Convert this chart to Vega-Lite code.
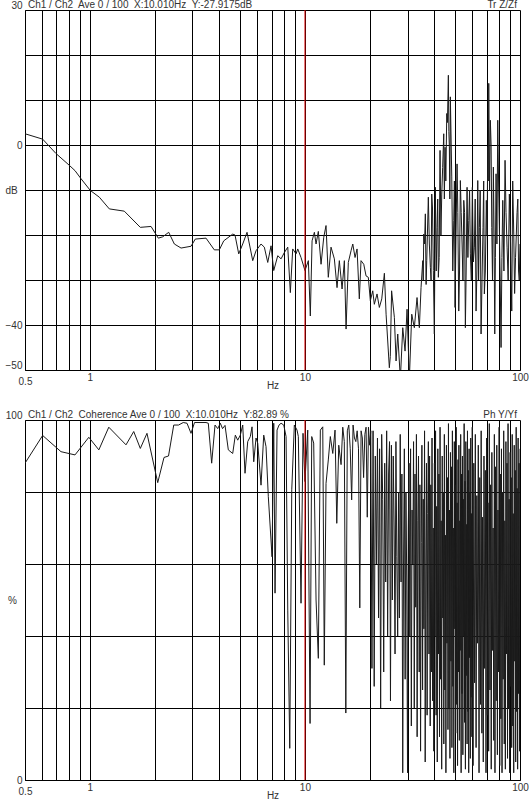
{
"$schema": "https://vega.github.io/schema/vega-lite/v6.json",
"background": "white",
"padding": {"left": 4, "top": 0, "right": 0, "bottom": 0},
"spacing": 50,
"bounds": "flush",
"config": {
  "font": "Liberation Sans",
  "view": {"stroke": null},
  "axis": {"gridColor": "#000", "gridOpacity": 1, "gridWidth": 1, "domainColor": "#000", "domainWidth": 1, "ticks": false, "labelFontSize": 10, "labelColor": "#333", "labelFont": "Liberation Sans", "titleFont": "Liberation Sans", "titleFontSize": 10, "titleFontWeight": "normal", "titleColor": "#333", "labelOverlap": false, "labelFlush": false}
},
"datasets": {
"tf": [
{"f":0.5,"db":2.5},{"f":0.604,"db":1.3},{"f":0.697,"db":-1.9},{"f":0.803,"db":-4.5},{"f":0.854,"db":-5.7},{"f":0.911,"db":-7.5},{"f":1.006,"db":-10.1},{"f":1.108,"db":-11.6},{"f":1.233,"db":-14.2},{"f":1.447,"db":-14.7},{"f":1.718,"db":-18.3},{"f":1.927,"db":-18.1},{"f":2.083,"db":-20.7},{"f":2.184,"db":-20.4},{"f":2.328,"db":-19.4},{"f":2.473,"db":-22.0},{"f":2.657,"db":-22.9},{"f":2.956,"db":-22.5},{"f":3.095,"db":-20.9},{"f":3.471,"db":-20.7},{"f":3.793,"db":-23.3},{"f":4.002,"db":-23.3},{"f":4.195,"db":-21.3},{"f":4.619,"db":-19.8},{"f":4.734,"db":-20.0},{"f":4.926,"db":-24.2},{"f":5.141,"db":-22.0},{"f":5.384,"db":-19.4},{"f":5.722,"db":-25.7},{"f":5.928,"db":-23.5},{"f":6.254,"db":-22.0},{"f":6.479,"db":-22.7},{"f":6.72,"db":-26.1},{"f":6.961,"db":-22.4},{"f":7.166,"db":-27.9},{"f":7.48,"db":-24.6},{"f":7.749,"db":-25.3},{"f":8.028,"db":-23.9},{"f":8.325,"db":-22.7},{"f":8.559,"db":-32.8},{"f":8.781,"db":-23.1},{"f":9.097,"db":-24.2},{"f":9.265,"db":-23.1},{"f":9.596,"db":-25.0},{"f":10.01,"db":-27.9},{"f":10.38,"db":-25.7},{"f":10.6,"db":-38.0},{"f":10.8,"db":-21.3},{"f":11.07,"db":-19.4},{"f":11.27,"db":-22.0},{"f":11.55,"db":-19.2},{"f":11.89,"db":-26.5},{"f":12.24,"db":-20.5},{"f":12.54,"db":-17.9},{"f":12.85,"db":-29.4},{"f":13.23,"db":-22.7},{"f":13.71,"db":-25.3},{"f":14.11,"db":-31.7},{"f":14.46,"db":-25.7},{"f":14.89,"db":-32.0},{"f":15.26,"db":-25.7},{"f":15.54,"db":-40.9},{"f":15.92,"db":-26.1},{"f":16.39,"db":-23.5},{"f":16.7,"db":-22.0},{"f":17.11,"db":-25.0},{"f":17.48,"db":-23.1},{"f":17.91,"db":-34.2},{"f":18.24,"db":-25.7},{"f":18.78,"db":-26.5},{"f":19.25,"db":-29.1},{"f":19.72,"db":-29.4},{"f":20.15,"db":-34.6},{"f":20.68,"db":-32.4},{"f":21.03,"db":-35.4},{"f":21.65,"db":-33.1},{"f":22.19,"db":-36.1},{"f":22.77,"db":-34.2},{"f":23.42,"db":-28.5},{"f":23.85,"db":-37.6},{"f":24.7,"db":-49.5},{"f":24.95,"db":-47},{"f":25.3,"db":-32.4},{"f":26.06,"db":-38.3},{"f":26.54,"db":-48},{"f":27.02,"db":-42},{"f":27.79,"db":-52},{"f":28.51,"db":-40.6},{"f":29.22,"db":-45.8},{"f":29.85,"db":-36.5},{"f":30.6,"db":-52},{"f":31.39,"db":-37.6},{"f":32.27,"db":-40.6},{"f":33.22,"db":-33.9},{"f":34.05,"db":-40.6},{"f":34.67,"db":-31.7},{"f":35.31,"db":-25.7},{"f":35.5,"db":-30},{"f":35.69,"db":-19.8},{"f":36.0,"db":-22},{"f":36.31,"db":-15.3},{"f":36.6,"db":-31},{"f":36.86,"db":-25.7},{"f":37.2,"db":-18},{"f":37.49,"db":-11.6},{"f":37.9,"db":-22},{"f":38.31,"db":-27.2},{"f":38.6,"db":-30},{"f":38.88,"db":-10.9},{"f":39.2,"db":-14},{"f":39.55,"db":-27.9},{"f":39.98,"db":-42.0},{"f":40.2,"db":-25},{"f":40.41,"db":-9.4},{"f":40.8,"db":-28},{"f":41.16,"db":-18.3},{"f":41.45,"db":-12},{"f":41.73,"db":-29.4},{"f":42.1,"db":-25},{"f":42.49,"db":-1.2},{"f":42.9,"db":-20},{"f":43.28,"db":-10.9},{"f":43.7,"db":-5},{"f":44.21,"db":2.5},{"f":44.5,"db":-12},{"f":44.84,"db":-0.5},{"f":45.2,"db":-8},{"f":45.66,"db":7.0},{"f":46.0,"db":5},{"f":46.45,"db":15.5},{"f":46.7,"db":3},{"f":46.95,"db":-0.4},{"f":47.2,"db":-12},{"f":47.45,"db":10.7},{"f":47.8,"db":2},{"f":48.17,"db":-7.1},{"f":48.7,"db":-28},{"f":49.21,"db":-16.8},{"f":49.55,"db":-8},{"f":49.9,"db":-36.1},{"f":50.4,"db":-20},{"f":50.98,"db":-4.2},{"f":51.4,"db":-15},{"f":51.92,"db":-36.9},{"f":52.35,"db":-28},{"f":52.81,"db":-7.9},{"f":53.3,"db":-15},{"f":53.79,"db":-22.0},{"f":54.3,"db":-30},{"f":54.78,"db":-12.3},{"f":55.25,"db":-15},{"f":55.72,"db":-40.6},{"f":56.2,"db":-28},{"f":56.75,"db":-9.4},{"f":57.25,"db":-25},{"f":57.79,"db":-16.8},{"f":58.3,"db":-10},{"f":58.79,"db":-24.2},{"f":59.4,"db":-30},{"f":60.06,"db":-9.4},{"f":60.7,"db":-26},{"f":61.37,"db":-22.7},{"f":61.9,"db":-12},{"f":62.48,"db":-36.9},{"f":63.05,"db":-28},{"f":63.63,"db":-7.9},{"f":64.2,"db":-30},{"f":64.73,"db":-18.3},{"f":65.3,"db":-10},{"f":65.92,"db":-42.0},{"f":66.6,"db":-30},{"f":67.32,"db":-18.3},{"f":67.8,"db":-8},{"f":68.28,"db":-33.1},{"f":69.0,"db":-28},{"f":69.75,"db":-12.3},{"f":70.3,"db":-20},{"f":70.81,"db":-0.4},{"f":71.2,"db":-8},{"f":71.57,"db":13.7},{"f":72.2,"db":-10},{"f":72.81,"db":5.5},{"f":73.4,"db":0},{"f":73.93,"db":-18.3},{"f":74.5,"db":-30},{"f":75.2,"db":-4.9},{"f":75.75,"db":-20},{"f":76.33,"db":-42.0},{"f":76.85,"db":-25},{"f":77.4,"db":-6.4},{"f":78.1,"db":-22},{"f":78.82,"db":5.5},{"f":79.5,"db":-8},{"f":80.17,"db":-18.3},{"f":80.9,"db":-30},{"f":81.65,"db":-45.0},{"f":82.4,"db":-25},{"f":83.15,"db":-12.3},{"f":84.2,"db":-28},{"f":85.22,"db":-3.4},{"f":86.1,"db":-15},{"f":87.07,"db":-22.7},{"f":88.1,"db":-30},{"f":89.24,"db":-10.9},{"f":90.4,"db":-22},{"f":91.55,"db":-36.9},{"f":92.5,"db":-8},{"f":93.54,"db":-19.8},{"f":94.4,"db":-33},{"f":95.35,"db":-25},{"f":96.1,"db":-20},{"f":96.9,"db":-15},{"f":97.7,"db":-12},{"f":98.47,"db":-28},{"f":99.2,"db":-30},{"f":100,"db":-22}
],
"coh": [
{"f":0.5,"c":88},{"f":0.604,"c":95.7},{"f":0.735,"c":91.2},{"f":0.854,"c":90.3},{"f":0.99,"c":95.2},{"f":1.102,"c":91.7},{"f":1.226,"c":98},{"f":1.474,"c":93.1},{"f":1.601,"c":96.8},{"f":1.718,"c":92.1},{"f":1.845,"c":96.3},{"f":2.07,"c":82.6},{"f":2.214,"c":89.6},{"f":2.323,"c":90},{"f":2.457,"c":98.6},{"f":2.586,"c":98.6},{"f":2.72,"c":99.3},{"f":2.832,"c":99.1},{"f":2.956,"c":96.3},{"f":3.069,"c":99.3},{"f":3.471,"c":99.3},{"f":3.557,"c":99.1},{"f":3.688,"c":88},{"f":3.822,"c":98.6},{"f":3.934,"c":97.6},{"f":4.045,"c":99.1},{"f":4.142,"c":97.6},{"f":4.254,"c":98.5},{"f":4.407,"c":91.7},{"f":4.619,"c":90.7},{"f":4.75,"c":95.8},{"f":4.873,"c":94.4},{"f":5.011,"c":95.8},{"f":5.141,"c":98.6},{"f":5.269,"c":85.2},{"f":5.424,"c":94},{"f":5.577,"c":95.4},{"f":5.68,"c":98.1},{"f":5.785,"c":88.4},{"f":5.928,"c":95},{"f":6.037,"c":93.6},{"f":6.254,"c":81.9},{"f":6.437,"c":95.8},{"f":6.597,"c":92.6},{"f":6.762,"c":78.7},{"f":7.036,"c":62},{"f":7.166,"c":99.1},{"f":7.266,"c":51.9},{"f":7.424,"c":97.2},{"f":7.584,"c":98.6},{"f":7.749,"c":99.1},{"f":7.976,"c":98.6},{"f":8.176,"c":95.4},{"f":8.326,"c":47.2},{"f":8.506,"c":8.8},{"f":8.69,"c":80.6},{"f":8.933,"c":98.6},{"f":9.195,"c":97.2},{"f":9.324,"c":95.4},{"f":9.596,"c":49.1},{"f":9.804,"c":96.3},{"f":10.01,"c":82.9},{"f":10.31,"c":97.2},{"f":10.57,"c":15.7},{"f":10.76,"c":95.4},{"f":10.99,"c":93.6},{"f":11.27,"c":50},{"f":11.55,"c":33.8},{"f":11.8,"c":97.2},{"f":12.11,"c":98.1},{"f":12.31,"c":31.9},{"f":12.54,"c":82.4},{"f":12.85,"c":88.9},{"f":13.13,"c":95.4},{"f":13.48,"c":90.7},{"f":13.81,"c":97.2},{"f":14.07,"c":71.3},{"f":14.37,"c":93},{"f":14.73,"c":87.6},
{"f":15.0,"c":98},{"f":15.25,"c":94},{"f":15.5,"c":18.6},{"f":15.75,"c":97},{"f":16.0,"c":98.6},{"f":16.25,"c":92},{"f":16.5,"c":77.8},{"f":16.75,"c":98.6},{"f":17.0,"c":95},{"f":17.25,"c":94},{"f":17.5,"c":97},{"f":17.75,"c":92},{"f":18.0,"c":47.8},{"f":18.25,"c":97},{"f":18.5,"c":95},{"f":18.75,"c":84},{"f":19.0,"c":96},{"f":19.25,"c":98},{"f":19.5,"c":73},{"f":19.75,"c":98},{"f":20.0,"c":93},{"f":20.25,"c":97},{"f":20.5,"c":31},{"f":20.75,"c":97},
{"f":21.0,"c":26},{"f":21.25,"c":90},{"f":21.5,"c":60},{"f":21.75,"c":95},{"f":22.0,"c":45},{"f":22.25,"c":92},{"f":22.5,"c":20},{"f":22.75,"c":96},{"f":23.0,"c":78},{"f":23.25,"c":30},{"f":23.5,"c":88},{"f":23.75,"c":55},{"f":24.0,"c":97},{"f":24.25,"c":40},{"f":24.5,"c":85},{"f":24.75,"c":94},{"f":25.0,"c":22},{"f":25.25,"c":93},{"f":25.5,"c":50},{"f":25.75,"c":90},{"f":26.0,"c":70},{"f":26.25,"c":35},{"f":26.5,"c":94},{"f":26.75,"c":62},{"f":27.0,"c":40},{"f":27.25,"c":80},{"f":27.5,"c":45},{"f":27.75,"c":96},{"f":28.0,"c":55},{"f":28.25,"c":85},{"f":28.5,"c":2},{"f":28.75,"c":60},{"f":29.0,"c":92},{"f":29.25,"c":28},{"f":29.5,"c":80},{"f":29.75,"c":55},{"f":30.0,"c":2},{"f":30.25,"c":70},{"f":30.5,"c":88},{"f":30.75,"c":40},{"f":31.0,"c":92},{"f":31.25,"c":15},{"f":31.5,"c":75},{"f":31.75,"c":60},{"f":32.0,"c":94},{"f":32.25,"c":20},{"f":32.5,"c":85},{"f":32.75,"c":48},{"f":33.0,"c":96},{"f":33.25,"c":12},{"f":33.5,"c":72},{"f":33.75,"c":90},{"f":34.0,"c":30},{"f":34.25,"c":82},{"f":34.5,"c":8},{"f":34.75,"c":66},{"f":35.0,"c":93},{"f":35.25,"c":25},{"f":35.5,"c":78},{"f":35.75,"c":42},{"f":36.0,"c":97},{"f":36.25,"c":5},{"f":36.5,"c":60},{"f":36.75,"c":88},{"f":37.0,"c":18},{"f":37.25,"c":74},{"f":37.5,"c":94},{"f":37.75,"c":35},
{"f":38.0,"c":90},{"f":38.25,"c":15},{"f":38.5,"c":82},{"f":38.75,"c":30},{"f":39.0,"c":95},{"f":39.25,"c":22},{"f":39.5,"c":70},{"f":39.75,"c":8},{"f":40.0,"c":88},{"f":40.25,"c":40},{"f":40.5,"c":97},{"f":40.75,"c":18},{"f":41.0,"c":76},{"f":41.25,"c":5},{"f":41.5,"c":92},{"f":41.75,"c":35},{"f":42.0,"c":85},{"f":42.25,"c":12},{"f":42.5,"c":98},{"f":42.75,"c":28},{"f":43.0,"c":72},{"f":43.25,"c":3},{"f":43.5,"c":90},{"f":43.75,"c":45},{"f":44.0,"c":80},{"f":44.25,"c":10},{"f":44.5,"c":96},{"f":44.75,"c":25},{"f":45.0,"c":68},{"f":45.25,"c":2},{"f":45.5,"c":93},{"f":45.75,"c":38},{"f":46.0,"c":84},{"f":46.25,"c":14},{"f":46.5,"c":99},{"f":46.75,"c":20},{"f":47.0,"c":75},{"f":47.25,"c":6},{"f":47.5,"c":91},{"f":47.75,"c":33},{"f":48.0,"c":87},{"f":48.25,"c":9},{"f":48.5,"c":97},{"f":48.75,"c":26},{"f":49.0,"c":70},{"f":49.25,"c":2},{"f":49.5,"c":94},{"f":49.75,"c":42},{"f":50.0,"c":82},{"f":50.25,"c":13},{"f":50.5,"c":98},{"f":50.75,"c":21},{"f":51.0,"c":77},{"f":51.25,"c":4},{"f":51.5,"c":89},{"f":51.75,"c":30},{"f":52.0,"c":93},{"f":52.25,"c":11},{"f":52.5,"c":72},{"f":52.75,"c":36},{"f":53.0,"c":96},{"f":53.25,"c":2},{"f":53.5,"c":85},{"f":53.75,"c":24},{"f":54.0,"c":90},{"f":54.25,"c":7},{"f":54.5,"c":78},{"f":54.75,"c":40},{"f":55.0,"c":99},{"f":55.25,"c":16},{"f":55.5,"c":83},{"f":55.75,"c":3},{"f":56.0,"c":94},{"f":56.25,"c":29},{"f":56.5,"c":71},{"f":56.75,"c":10},{"f":57.0,"c":97},{"f":57.25,"c":19},{"f":57.5,"c":86},{"f":57.75,"c":2},{"f":58.0,"c":92},{"f":58.25,"c":34},{"f":58.5,"c":80},{"f":58.75,"c":6},{"f":59.0,"c":95},{"f":59.25,"c":23},{"f":59.5,"c":74},{"f":59.75,"c":12},{"f":60.0,"c":98},
{"f":60.5,"c":4},{"f":61.0,"c":88},{"f":61.5,"c":27},{"f":62.0,"c":96},{"f":62.5,"c":9},{"f":63.0,"c":79},{"f":63.5,"c":38},{"f":64.0,"c":93},{"f":64.5,"c":2},{"f":65.0,"c":84},{"f":65.5,"c":21},{"f":66.0,"c":97},{"f":66.5,"c":13},{"f":67.0,"c":73},{"f":67.5,"c":5},{"f":68.0,"c":90},{"f":68.5,"c":31},{"f":69.0,"c":86},{"f":69.5,"c":2},{"f":70.0,"c":95},{"f":70.5,"c":18},{"f":71.0,"c":77},{"f":71.5,"c":8},{"f":72.0,"c":99},{"f":72.5,"c":25},{"f":73.0,"c":82},{"f":73.5,"c":3},{"f":74.0,"c":91},{"f":74.5,"c":36},{"f":75.0,"c":70},{"f":75.5,"c":11},{"f":76.0,"c":96},{"f":76.5,"c":2},{"f":77.0,"c":87},{"f":77.5,"c":22},{"f":78.0,"c":93},{"f":78.5,"c":7},{"f":79.0,"c":75},{"f":79.5,"c":30},{"f":80.0,"c":98},{"f":80.5,"c":4},{"f":81.0,"c":85},{"f":81.5,"c":17},{"f":82.0,"c":92},{"f":82.5,"c":2},{"f":83.0,"c":80},{"f":83.5,"c":28},{"f":84.0,"c":97},{"f":84.5,"c":10},{"f":85.0,"c":72},{"f":85.5,"c":3},{"f":86.0,"c":94},{"f":86.5,"c":35},{"f":87.0,"c":88},{"f":87.5,"c":6},{"f":88.0,"c":99},{"f":88.5,"c":20},{"f":89.0,"c":78},{"f":89.5,"c":2},{"f":90.0,"c":91},{"f":90.5,"c":26},{"f":91.0,"c":84},{"f":91.5,"c":9},{"f":92.0,"c":96},{"f":92.5,"c":15},{"f":93.0,"c":74},{"f":93.5,"c":2},{"f":94.0,"c":93},{"f":94.5,"c":33},{"f":95.0,"c":86},{"f":95.5,"c":5},{"f":96.0,"c":98},{"f":96.5,"c":19},{"f":97.0,"c":81},{"f":97.5,"c":3},{"f":98.0,"c":95},{"f":98.5,"c":24},{"f":99.0,"c":88},{"f":99.5,"c":8},{"f":100.0,"c":92}
]
},
"vconcat": [
{
  "width": 495,
  "height": 360,
  "layer": [
    {
      "data": {"name": "tf"},
      "mark": {"type": "line", "clip": true, "color": "#1a1a1a", "strokeWidth": 1},
      "encoding": {
        "x": {"field": "f", "type": "quantitative",
              "scale": {"type": "log", "domain": [0.5, 100], "nice": false},
              "axis": {"values": [0.5,0.6,0.7,0.8,0.9,1,2,3,4,5,6,7,8,9,10,20,30,40,50,60,70,80,90,100],
                       "labelExpr": "datum.value == 0.5 ? '0.5' : datum.value == 1 ? '1' : datum.value == 10 ? '10' : datum.value == 100 ? '100' : ''",
                       "labelPadding": {"condition": {"test": "datum.value == 0.5", "value": 6}, "value": 2},
                       "title": "Hz", "titlePadding": -6}},
        "y": {"field": "db", "type": "quantitative",
              "scale": {"domain": [-50, 30], "nice": false, "zero": false},
              "axis": {"values": [-50,-40,-30,-20,-10,0,10,20,30],
                       "labelExpr": "datum.value == 30 || datum.value == 0 || datum.value == -40 || datum.value == -50 ? datum.label : ''",
                       "labelPadding": 3,
                       "labelBaseline": {"condition": {"test": "datum.value == 30 || datum.value == -50", "value": "bottom"}, "value": "middle"},
                       "title": "dB", "titleAngle": 0, "titleX": -14, "titleY": 180, "titleAlign": "center", "titleBaseline": "middle"}}
      }
    },
    {
      "data": {"values": [{"f": 10.01}]},
      "mark": {"type": "rule", "color": "#e00000", "strokeWidth": 1},
      "encoding": {"x": {"field": "f", "type": "quantitative"}}
    },
    {
      "data": {"values": [{"label": "Ch1 / Ch2\u00a0 Ave 0 / 100\u00a0 X:10.010Hz\u00a0 Y:-27.9175dB"}]},
      "mark": {"type": "text", "align": "left", "baseline": "bottom", "dx": 3, "dy": 0, "fontSize": 10, "color": "#333", "font": "Liberation Sans"},
      "encoding": {"x": {"datum": 0.5}, "y": {"datum": 30}, "text": {"field": "label"}}
    },
    {
      "data": {"values": [{"label": "Tr Z/Zf"}]},
      "mark": {"type": "text", "align": "right", "baseline": "bottom", "dx": -3, "dy": 0, "fontSize": 10, "color": "#333", "font": "Liberation Sans"},
      "encoding": {"x": {"datum": 100}, "y": {"datum": 30}, "text": {"field": "label"}}
    }
  ]
},
{
  "width": 495,
  "height": 360,
  "layer": [
    {
      "data": {"name": "coh"},
      "mark": {"type": "line", "clip": true, "color": "#1a1a1a", "strokeWidth": 1},
      "encoding": {
        "x": {"field": "f", "type": "quantitative",
              "scale": {"type": "log", "domain": [0.5, 100], "nice": false},
              "axis": {"values": [0.5,0.6,0.7,0.8,0.9,1,2,3,4,5,6,7,8,9,10,20,30,40,50,60,70,80,90,100],
                       "labelExpr": "datum.value == 0.5 ? '0.5' : datum.value == 1 ? '1' : datum.value == 10 ? '10' : datum.value == 100 ? '100' : ''",
                       "labelPadding": {"condition": {"test": "datum.value == 0.5", "value": 6}, "value": 2},
                       "title": "Hz", "titlePadding": -6}},
        "y": {"field": "c", "type": "quantitative",
              "scale": {"domain": [0, 100], "nice": false},
              "axis": {"values": [0,20,40,60,80,100],
                       "labelExpr": "datum.value == 0 || datum.value == 100 ? datum.label : ''",
                       "labelPadding": 3,
                       "labelBaseline": {"condition": {"test": "datum.value == 100", "value": "bottom"}, "value": "middle"},
                       "title": "%", "titleAngle": 0, "titleX": -13, "titleY": 180, "titleAlign": "center", "titleBaseline": "middle"}}
      }
    },
    {
      "data": {"values": [{"f": 10.01}]},
      "mark": {"type": "rule", "color": "#e00000", "strokeWidth": 1},
      "encoding": {"x": {"field": "f", "type": "quantitative"}}
    },
    {
      "data": {"values": [{"label": "Ch1 / Ch2\u00a0 Coherence Ave 0 / 100\u00a0 X:10.010Hz\u00a0 Y:82.89 %"}]},
      "mark": {"type": "text", "align": "left", "baseline": "bottom", "dx": 3, "dy": 0, "fontSize": 10, "color": "#333", "font": "Liberation Sans"},
      "encoding": {"x": {"datum": 0.5}, "y": {"datum": 100}, "text": {"field": "label"}}
    },
    {
      "data": {"values": [{"label": "Ph Y/Yf"}]},
      "mark": {"type": "text", "align": "right", "baseline": "bottom", "dx": -3, "dy": 0, "fontSize": 10, "color": "#333", "font": "Liberation Sans"},
      "encoding": {"x": {"datum": 100}, "y": {"datum": 100}, "text": {"field": "label"}}
    }
  ]
}
]
}
